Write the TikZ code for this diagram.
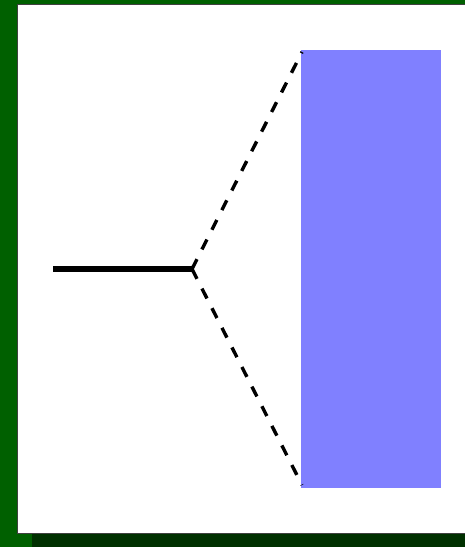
\documentclass[tikz,border=0pt]{standalone}
\definecolor{outergreen}{HTML}{006000}
\definecolor{shadowgreen}{HTML}{003000}
\definecolor{bluebox}{HTML}{8080FF}
\tikzset{
  dashedline/.style={line width=3.4pt, dash pattern=on 11pt off 11pt},
  thickline/.style={line width=6.6pt},
}
\begin{document}
\begin{tikzpicture}[x=1pt,y=-1pt]
\useasboundingbox (0,0) rectangle (465,547);
\fill[outergreen] (0,0) rectangle (465,547);
\fill[shadowgreen] (32,534) rectangle (465,547);
\filldraw[fill=white, draw=black!75, line width=1pt] (17,4) rectangle (466,533.5);
\fill[bluebox] (301,50) rectangle (441,488);
\coordinate (a) at (53,269);
\coordinate (j) at (192,269);
\coordinate (t) at (302,52);
\coordinate (b) at (302,485);
\draw[thickline] (a) -- (j);
\draw[dashedline] (j) -- (t);
\draw[dashedline] (j) -- (b);
\end{tikzpicture}
\end{document}
